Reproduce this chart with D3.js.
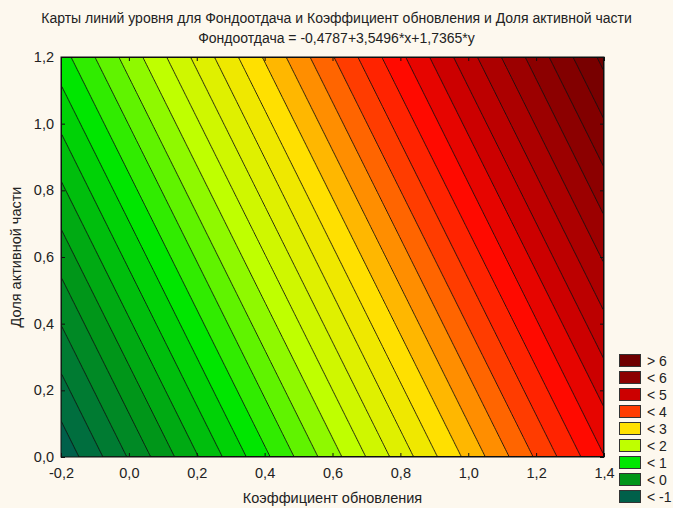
<!DOCTYPE html>
<html>
<head>
<meta charset="utf-8">
<script src="https://cdn.jsdelivr.net/npm/d3@7"></script>
<style>
	body { margin: 0; background: #fdf8ee; }
	text { font-family: "Liberation Sans", Arial, sans-serif; fill: #222; }
</style>
</head>
<body>
<svg id="canvas"></svg>
<script>
// regression: Фондоотдача = b0 + b1*x + b2*y
let coefs = [-0.4787, 3.5496, 1.7365]

let xDomain = [-0.2, 1.4]
let yDomain = [0, 1.2]
let xTicks = [-0.2, 0, 0.2, 0.4, 0.6, 0.8, 1.0, 1.2, 1.4]
let yTicks = [0, 0.2, 0.4, 0.6, 0.8, 1.0, 1.2]

// contour levels every 0.25
let levels = d3.range(-5, 27).map(i => i * 0.25)

let legendLabels = ['> 6', '< 6', '< 5', '< 4', '< 3', '< 2', '< 1', '< 0', '< -1']
let legendColors = ['#6e0000', '#8c0000', '#cc0000', '#ff3c00', '#ffe000', '#bfff00', '#00e600', '#009619', '#00604a']

// colour stops for the bands (legend colours plus one extra red stop)
let stopValues = [-1, 0, 1, 2, 3, 4, 4.5, 5, 6, 6.75]
let stopColors = ['#00604a', '#009619', '#00e600', '#bfff00', '#ffe000', '#ff3c00', '#ff0a00', '#cc0000', '#8c0000', '#6e0000']

let width = 673
let height = 508
let pLeft = 61, pRight = 604, pTop = 57, pBottom = 457

let svg = d3.select('#canvas')
	.attr('width', width)
	.attr('height', height)

let xScale = d3.scaleLinear().domain(xDomain).range([pLeft, pRight])
let yScale = d3.scaleLinear().domain(yDomain).range([pBottom, pTop])

let colorScale = d3.scaleLinear()
	.domain(stopValues)
	.range(stopColors)
	.interpolate(d3.interpolateRgb)
	.clamp(true)

let fmt = d => d3.format('.1f')(d).replace('.', ',').replace('\u2212', '-')

// titles
svg.append('text')
	.attr('x', width / 2).attr('y', 23)
	.attr('text-anchor', 'middle')
	.style('font-size', '14px')
	.text('Карты линий уровня для Фондоотдача и Коэффициент обновления и Доля активной части')

svg.append('text')
	.attr('x', width / 2).attr('y', 43)
	.attr('text-anchor', 'middle')
	.style('font-size', '14px')
	.text('Фондоотдача = -0,4787+3,5496*x+1,7365*y')

// grid of the surface
let nx = 320, ny = 240
let dx = (xDomain[1] - xDomain[0]) / nx
let dy = (yDomain[1] - yDomain[0]) / ny
let grid = new Array(nx * ny)
for (let j = 0; j < ny; j++) {
	for (let i = 0; i < nx; i++) {
		let x = xDomain[0] + (i + 0.5) * dx
		let y = yDomain[1] - (j + 0.5) * dy
		grid[j * nx + i] = coefs[0] + coefs[1] * x + coefs[2] * y
	}
}

let contours = d3.contours().size([nx, ny]).thresholds(levels)(grid)

let proj = d3.geoTransform({
	point: function (gx, gy) {
		this.stream.point(xScale(xDomain[0] + gx * dx), yScale(yDomain[1] - gy * dy))
	}
})
let path = d3.geoPath(proj)

svg.append('clipPath').attr('id', 'clip')
	.append('rect')
	.attr('x', pLeft).attr('y', pTop)
	.attr('width', pRight - pLeft).attr('height', pBottom - pTop)

let plot = svg.append('g').attr('clip-path', 'url(#clip)')

plot.append('rect')
	.attr('x', pLeft).attr('y', pTop)
	.attr('width', pRight - pLeft).attr('height', pBottom - pTop)
	.attr('fill', colorScale(-1))

plot.selectAll('path.band')
	.data(contours)
	.enter()
	.append('path')
	.attr('class', 'band')
	.attr('d', path)
	.attr('fill', d => colorScale(d.value + 0.25))

plot.selectAll('path.line')
	.data(contours.filter(d => d.value >= -1))
	.enter()
	.append('path')
	.attr('class', 'line')
	.attr('d', path)
	.attr('fill', 'none')
	.attr('stroke', '#111')
	.attr('stroke-width', 0.9)

// axes
let xAxis = d3.axisBottom(xScale).tickValues(xTicks).tickFormat(fmt).tickSize(-4).tickPadding(11)
let yAxis = d3.axisLeft(yScale).tickValues(yTicks).tickFormat(fmt).tickSize(-4).tickPadding(7)

svg.append('g').attr('transform', `translate(0, ${pBottom})`).call(xAxis)
svg.append('g').attr('transform', `translate(${pLeft}, 0)`).call(yAxis)
svg.append('g').attr('transform', `translate(0, ${pTop})`)
	.call(d3.axisTop(xScale).tickValues(xTicks).tickFormat('').tickSize(-4))
svg.append('g').attr('transform', `translate(${pRight}, 0)`)
	.call(d3.axisRight(yScale).tickValues(yTicks).tickFormat('').tickSize(-4))

svg.selectAll('.domain').remove()
svg.selectAll('.tick line').attr('stroke', '#111')
svg.selectAll('.tick text').style('font-size', '14.5px').style('font-family', '"Liberation Sans", Arial, sans-serif').attr('fill', '#222')

svg.append('rect')
	.attr('x', pLeft).attr('y', pTop)
	.attr('width', pRight - pLeft).attr('height', pBottom - pTop)
	.attr('fill', 'none')
	.attr('stroke', '#111')
	.attr('stroke-width', 1)

svg.append('text')
	.attr('x', (pLeft + pRight) / 2).attr('y', 503)
	.attr('text-anchor', 'middle')
	.style('font-size', '14.5px')
	.text('Коэффициент обновления')

svg.append('text')
	.attr('transform', `translate(21, ${(pTop + pBottom) / 2}) rotate(-90)`)
	.attr('text-anchor', 'middle')
	.style('font-size', '14.5px')
	.text('Доля активной части')

// legend
let legend = svg.append('g').attr('id', 'legend')
legend.selectAll('rect')
	.data(legendColors)
	.enter()
	.append('rect')
	.attr('x', 619.5)
	.attr('y', (d, i) => 354.5 + i * 17)
	.attr('width', 21)
	.attr('height', 12)
	.attr('fill', d => d)
	.attr('stroke', '#333')
	.attr('stroke-width', 1)

legend.selectAll('text')
	.data(legendLabels)
	.enter()
	.append('text')
	.attr('x', 647)
	.attr('y', (d, i) => 366 + i * 17)
	.style('font-size', '14px')
	.text(d => d)
</script>
</body>
</html>
